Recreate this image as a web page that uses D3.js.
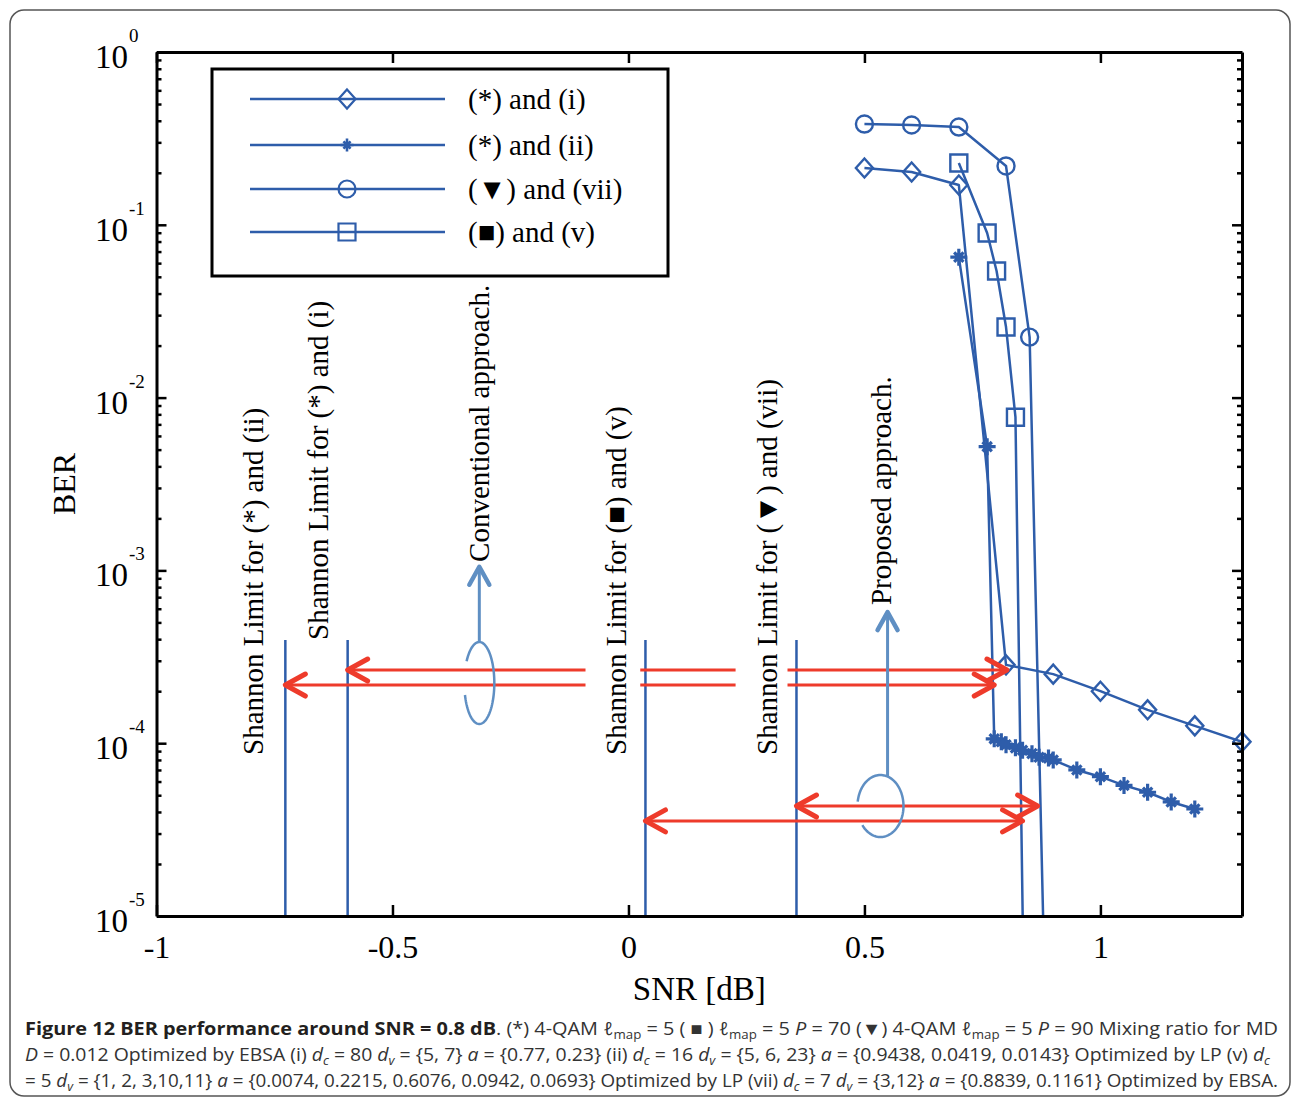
<!DOCTYPE html>
<html>
<head>
<meta charset="utf-8">
<script src="https://cdn.jsdelivr.net/npm/d3@7"></script>
<style>
  body { margin: 0; background: #fff; }
  svg { display: block; }
</style>
</head>
<body>
<svg id="chart" width="1292" height="1099"></svg>
<script>
// ---- BER curves (SNR in dB) ----
const snrI   = [0.5, 0.6, 0.7, 0.8, 0.9, 1.0, 1.1, 1.2, 1.3];
const berI   = [0.213, 0.202, 0.170, 2.84e-4, 2.51e-4, 2.0e-4, 1.56e-4, 1.26e-4, 1.02e-4];

const snrII  = [0.7, 0.76, 0.775, 0.79, 0.80, 0.82, 0.835, 0.855, 0.87, 0.89, 0.90, 0.95, 1.0, 1.05, 1.1, 1.15, 1.2];
const berII  = [0.065, 5.2e-3, 1.06e-4, 1.02e-4, 9.8e-5, 9.4e-5, 9.1e-5, 8.7e-5, 8.3e-5, 8.2e-5, 8.0e-5, 7.0e-5, 6.4e-5, 5.7e-5, 5.2e-5, 4.57e-5, 4.16e-5];

const snrVII = [0.5, 0.6, 0.7, 0.8, 0.85, 0.9];
const berVII = [0.383, 0.378, 0.368, 0.219, 0.0224, 3e-8];

const snrV   = [0.7, 0.76, 0.78, 0.80, 0.82, 0.84];
const berV   = [0.228, 0.0897, 0.054, 0.0256, 0.0077, 1.3e-6];

const seriesNames   = ["(*) and (i)", "(*) and (ii)", "(\u25BC) and (vii)", "(\u25A0) and (v)"];
const seriesMarkers = ["diamond", "star", "circle", "square"];

// ---- Shannon limits (dB) ----
const shannonSnr = [-0.727, -0.595, 0.036, 0.356];
const shannonTopBer = 3.95e-4;

// conventional approach: gap between Shannon limit and waterfall
const convBer     = [2.65e-4, 2.17e-4];
const convRight   = [0.802, 0.775];
const convLeft    = [-0.595, -0.727];
const convBreaks  = [[-0.091, 0.025], [0.227, 0.337]];
const convLoop    = { snr: -0.316, ber: 2.23e-4, tipBer: 1.05e-3 };

// proposed approach
const propBer     = [4.33e-5, 3.55e-5];
const propLeft    = [0.356, 0.036];
const propRight   = [0.867, 0.835];
const propLoop    = { snr: 0.534, ber: 4.33e-5, stemSnr: 0.549, tipBer: 5.74e-4 };

// rotated labels: baseline SNR and BER where the text starts
const labelText = ["Shannon Limit for (*) and (ii)", "Shannon Limit for (*) and (i)", "Conventional approach.",
                   "Shannon Limit for (\u25A0) and (v)", "Shannon Limit for (\u25BC) and (vii)", "Proposed approach."];
const labelSnr  = [-0.7744, -0.6367, -0.2956, -0.0053, 0.3146, 0.5572];
const labelBer  = [8.55e-5, 3.96e-4, 1.12e-3, 8.55e-5, 8.55e-5, 6.3e-4];

// ---- axes ----
const xTicks = [-1, -0.5, 0, 0.5, 1];
const yTicks = [1e-5, 1e-4, 1e-3, 1e-2, 1e-1, 1];
const yTickExp = ["-5", "-4", "-3", "-2", "-1", "0"];
const xLabel = "SNR [dB]";
const yLabel = "BER";

// ---- caption ----
const captionLines = [
  [["Figure 12 BER performance around SNR = 0.8 dB", "b"], [". (*) 4-QAM \u2113", ""], ["map", "s"], [" = 5 ( \u25A0 ) \u2113", ""], ["map", "s"],
   [" = 5 ", ""], ["P", "i"], [" = 70 (\u25BC) 4-QAM \u2113", ""], ["map", "s"], [" = 5 ", ""], ["P", "i"], [" = 90 Mixing ratio for MD", ""]],
  [["D", "i"], [" = 0.012 Optimized by EBSA (i) ", ""], ["d", "i"], ["c", "si"], [" = 80 ", ""], ["d", "i"], ["v", "si"], [" = {5, 7} ", ""],
   ["a", "i"], [" = {0.77, 0.23} (ii) ", ""], ["d", "i"], ["c", "si"], [" = 16 ", ""], ["d", "i"], ["v", "si"], [" = {5, 6, 23} ", ""],
   ["a", "i"], [" = {0.9438, 0.0419, 0.0143} Optimized by LP (v) ", ""], ["d", "i"], ["c", "si"]],
  [["= 5 ", ""], ["d", "i"], ["v", "si"], [" = {1, 2, 3,10,11} ", ""], ["a", "i"], [" = {0.0074, 0.2215, 0.6076, 0.0942, 0.0693} Optimized by LP (vii) ", ""],
   ["d", "i"], ["c", "si"], [" = 7 ", ""], ["d", "i"], ["v", "si"], [" = {3,12} ", ""], ["a", "i"], [" = {0.8839, 0.1161} Optimized by EBSA.", ""]]
];

// ================= drawing =================
const svg = d3.select("#chart");
const SERIF = "'Liberation Serif','Times New Roman',Times,serif";
const BLUE = "#2e5daa";
const RED = "#ee3b2b";
const LIGHTBLUE = "#5f8fc3";

const plot = { left: 156.5, right: 1242, top: 52, bottom: 916 };
const x = d3.scaleLinear().domain([-1, 1.3]).range([plot.left, plot.right]);
const y = d3.scaleLog().domain([1e-5, 1]).range([plot.bottom, plot.top]);

// figure frame
svg.append("rect")
  .attr("x", 10).attr("y", 10).attr("width", 1280).attr("height", 1086)
  .attr("rx", 14).attr("fill", "none").attr("stroke", "#555").attr("stroke-width", 1.5);

svg.append("defs").append("clipPath").attr("id", "plotclip")
  .append("rect").attr("x", plot.left).attr("y", plot.top)
  .attr("width", plot.right - plot.left).attr("height", plot.bottom - plot.top);

// marker shapes
function markerPath(kind, s) {
  if (kind === "diamond") return `M0,${-s}L${s * 0.9},0L0,${s}L${-s * 0.9},0Z`;
  if (kind === "square") return `M${-s},${-s}H${s}V${s}H${-s}Z`;
  if (kind === "circle") return `M${s},0A${s},${s} 0 1,1 ${-s},0A${s},${s} 0 1,1 ${s},0Z`;
  const d = s * 0.55;
  return `M${-s},0H${s}M0,${-s}V${s}M${-d},${-d}L${d},${d}M${-d},${d}L${d},${-d}`;
}
const markerSize = { diamond: 9.5, square: 8.5, circle: 8.5, star: 8.5 };

const series = [
  { snr: snrI, ber: berI, marker: seriesMarkers[0] },
  { snr: snrII, ber: berII, marker: seriesMarkers[1] },
  { snr: snrVII, ber: berVII, marker: seriesMarkers[2] },
  { snr: snrV, ber: berV, marker: seriesMarkers[3] }
];

const dataG = svg.append("g").attr("clip-path", "url(#plotclip)");
const markG = svg.append("g");
const line = d3.line().x(d => x(d[0])).y(d => y(d[1]));
const inside = d => d[0] >= -1 && d[0] <= 1.3 && d[1] >= 1e-5 && d[1] <= 1;

// Shannon limit verticals
dataG.selectAll("line.shannon").data(shannonSnr).join("line")
  .attr("class", "shannon")
  .attr("x1", d => x(d)).attr("x2", d => x(d))
  .attr("y1", y(shannonTopBer)).attr("y2", y(1e-5))
  .attr("stroke", BLUE).attr("stroke-width", 2.5);

series.forEach(s => {
  const pts = s.snr.map((v, i) => [v, s.ber[i]]);
  dataG.append("path").attr("d", line(pts))
    .attr("fill", "none").attr("stroke", BLUE).attr("stroke-width", 2.5).attr("stroke-linejoin", "round");
  // markers: drawn whole for points inside the axes
  markG.selectAll(null).data(pts.filter(inside)).join("path")
    .attr("transform", d => `translate(${x(d[0])},${y(d[1])})`)
    .attr("d", markerPath(s.marker, markerSize[s.marker]))
    .attr("fill", "none").attr("stroke", BLUE)
    .attr("stroke-width", s.marker === "star" ? 3.2 : 2.4);
});

// arrows
function chevron(g, tx, ty, dx, dy, color, w) {
  g.append("path")
    .attr("d", `M${tx + dx},${ty - dy}L${tx},${ty}L${tx + dx},${ty + dy}`)
    .attr("fill", "none").attr("stroke", color).attr("stroke-width", w)
    .attr("stroke-linecap", "round").attr("stroke-linejoin", "round");
}
function vChevron(g, tx, ty, dx, dy, color, w) {
  g.append("path")
    .attr("d", `M${tx - dx},${ty + dy}L${tx},${ty}L${tx + dx},${ty + dy}`)
    .attr("fill", "none").attr("stroke", color).attr("stroke-width", w)
    .attr("stroke-linecap", "round").attr("stroke-linejoin", "round");
}

const annG = svg.append("g");

// conventional: broken double-headed arrows
convBer.forEach((b, i) => {
  const yy = y(b);
  const stops = [convLeft[i], ...convBreaks.flat(), convRight[i]];
  for (let k = 0; k < stops.length; k += 2) {
    annG.append("line")
      .attr("x1", x(stops[k])).attr("x2", x(stops[k + 1]))
      .attr("y1", yy).attr("y2", yy)
      .attr("stroke", RED).attr("stroke-width", 3);
  }
  chevron(annG, x(convLeft[i]), yy, 20, 11, RED, 5);
  chevron(annG, x(convRight[i]), yy, -20, 11, RED, 5);
});

// proposed: double-headed arrows
propBer.forEach((b, i) => {
  const yy = y(b);
  annG.append("line")
    .attr("x1", x(propLeft[i])).attr("x2", x(propRight[i]))
    .attr("y1", yy).attr("y2", yy)
    .attr("stroke", RED).attr("stroke-width", 3);
  chevron(annG, x(propLeft[i]), yy, 20, 11, RED, 5);
  chevron(annG, x(propRight[i]), yy, -20, 11, RED, 5);
});

// loops with an opening on the left, plus pointer stem
function openLoop(cx, cy, rx, ry, fromDeg, toDeg) {
  const steps = d3.range(0, 101).map(k => {
    const t = (fromDeg + (toDeg - fromDeg) * k / 100) * Math.PI / 180;
    return [cx + rx * Math.cos(t), cy + ry * Math.sin(t)];
  });
  return d3.line()(steps);
}
{
  const cx = x(convLoop.snr), cy = y(convLoop.ber), rx = 15, ry = 41;
  annG.append("path").attr("d", openLoop(cx, cy, rx, ry, 212, 523))
    .attr("fill", "none").attr("stroke", LIGHTBLUE).attr("stroke-width", 2.5);
  const tip = y(convLoop.tipBer);
  annG.append("line").attr("x1", cx).attr("x2", cx).attr("y1", cy - ry).attr("y2", tip + 1)
    .attr("stroke", LIGHTBLUE).attr("stroke-width", 3);
  vChevron(annG, cx, tip, 10, 18, LIGHTBLUE, 4.5);
}
{
  const cx = x(propLoop.snr), cy = y(propLoop.ber), rx = 23, ry = 31;
  annG.append("path").attr("d", openLoop(cx, cy, rx, ry, 188, 502))
    .attr("fill", "none").attr("stroke", LIGHTBLUE).attr("stroke-width", 2.5);
  const sx = x(propLoop.stemSnr), tip = y(propLoop.tipBer);
  annG.append("line").attr("x1", sx).attr("x2", sx).attr("y1", cy - ry + 1).attr("y2", tip + 1)
    .attr("stroke", LIGHTBLUE).attr("stroke-width", 3);
  vChevron(annG, sx, tip, 10, 18, LIGHTBLUE, 4.5);
}

// rotated labels
annG.selectAll("text.rot").data(labelText).join("text")
  .attr("class", "rot")
  .attr("transform", (d, i) => `translate(${x(labelSnr[i])},${y(labelBer[i])}) rotate(-90)`)
  .attr("font-family", SERIF).attr("font-size", 29).attr("fill", "#000")
  .text(d => d);

// ---- axes with inward ticks ----
const axG = svg.append("g").attr("font-family", SERIF);
const minorTicks = [];
for (let e = -5; e < 0; e++) for (let m = 2; m <= 9; m++) minorTicks.push(m * Math.pow(10, e));

function styleAxis(g) {
  g.select(".domain").attr("stroke", "#000").attr("stroke-width", 3);
  g.selectAll(".tick line").attr("stroke", "#000").attr("stroke-width", 2.5);
}

axG.append("g").attr("transform", `translate(0,${plot.bottom})`)
  .call(d3.axisBottom(x).tickValues(xTicks).tickSize(-11).tickSizeOuter(0).tickFormat(d => String(d)))
  .call(styleAxis)
  .call(g => g.selectAll(".tick text").attr("y", 42).attr("dy", null)
    .attr("font-size", 32).attr("font-family", SERIF).attr("fill", "#000"));

axG.append("g").attr("transform", `translate(0,${plot.top})`)
  .call(d3.axisTop(x).tickValues(xTicks).tickSize(-11).tickSizeOuter(0).tickFormat(""))
  .call(styleAxis);

axG.append("g").attr("transform", `translate(${plot.left},0)`)
  .call(d3.axisLeft(y).tickValues(yTicks).tickSize(-10).tickSizeOuter(0).tickFormat(""))
  .call(styleAxis);
axG.append("g").attr("transform", `translate(${plot.left},0)`)
  .call(d3.axisLeft(y).tickValues(minorTicks).tickSize(-5).tickSizeOuter(0).tickFormat(""))
  .call(styleAxis).call(g => g.select(".domain").remove());

axG.append("g").attr("transform", `translate(${plot.right},0)`)
  .call(d3.axisRight(y).tickValues(yTicks).tickSize(-10).tickSizeOuter(0).tickFormat(""))
  .call(styleAxis);
axG.append("g").attr("transform", `translate(${plot.right},0)`)
  .call(d3.axisRight(y).tickValues(minorTicks).tickSize(-5).tickSizeOuter(0).tickFormat(""))
  .call(styleAxis).call(g => g.select(".domain").remove());

// y tick labels as 10 with superscript exponent
const yLab = axG.append("g");
yTicks.forEach((t, i) => {
  const ty = y(t);
  yLab.append("text").attr("x", 128).attr("y", ty + 16)
    .attr("text-anchor", "end").attr("font-size", 33).attr("fill", "#000").text("10");
  yLab.append("text").attr("x", 129).attr("y", ty - 10)
    .attr("text-anchor", "start").attr("font-size", 19).attr("fill", "#000").text(yTickExp[i]);
});

axG.append("text").attr("x", (plot.left + plot.right) / 2).attr("y", 1000)
  .attr("text-anchor", "middle").attr("font-size", 33).attr("fill", "#000").text(xLabel);
axG.append("text").attr("transform", `translate(75,${(plot.top + plot.bottom) / 2}) rotate(-90)`)
  .attr("text-anchor", "middle").attr("font-size", 32).attr("fill", "#000").text(yLabel);

// ---- legend ----
const leg = svg.append("g");
leg.append("rect").attr("x", 212).attr("y", 69).attr("width", 456).attr("height", 207)
  .attr("fill", "#fff").attr("stroke", "#000").attr("stroke-width", 3);
const legRows = [99, 145, 189, 232];
seriesNames.forEach((name, i) => {
  const ry = legRows[i];
  leg.append("line").attr("x1", 250).attr("x2", 445).attr("y1", ry).attr("y2", ry)
    .attr("stroke", BLUE).attr("stroke-width", 2.5);
  const mk = seriesMarkers[i];
  leg.append("path").attr("transform", `translate(347,${ry})`)
    .attr("d", markerPath(mk, mk === "star" ? 6.5 : markerSize[mk]))
    .attr("fill", "none").attr("stroke", BLUE).attr("stroke-width", mk === "star" ? 2.6 : 2.2);
  leg.append("text").attr("x", 468).attr("y", ry + 10)
    .attr("font-family", SERIF).attr("font-size", 29).attr("fill", "#000").text(name);
});

// ---- caption ----
const capG = svg.append("g").attr("font-family", "'Open Sans','Noto Sans',sans-serif").attr("font-size", 18);
const capBase = [1035, 1061, 1087];
const capLen = [1253, 1245, 1253];
captionLines.forEach((segs, li) => {
  const t = capG.append("text").attr("x", 25).attr("y", capBase[li])
    .attr("fill", "#333")
    .attr("textLength", capLen[li]).attr("lengthAdjust", "spacingAndGlyphs");
  let shifted = false;
  segs.forEach(([txt, st]) => {
    const sp = t.append("tspan").text(txt);
    const isSub = st.includes("s");
    if (isSub && !shifted) { sp.attr("dy", 4); shifted = true; }
    else if (!isSub && shifted) { sp.attr("dy", -4); shifted = false; }
    if (isSub) sp.attr("font-size", 12);
    if (st.includes("i")) sp.attr("font-style", "italic");
    if (st === "b") sp.attr("font-weight", "bold").attr("fill", "#231f20");
  });
});
</script>
</body>
</html>
